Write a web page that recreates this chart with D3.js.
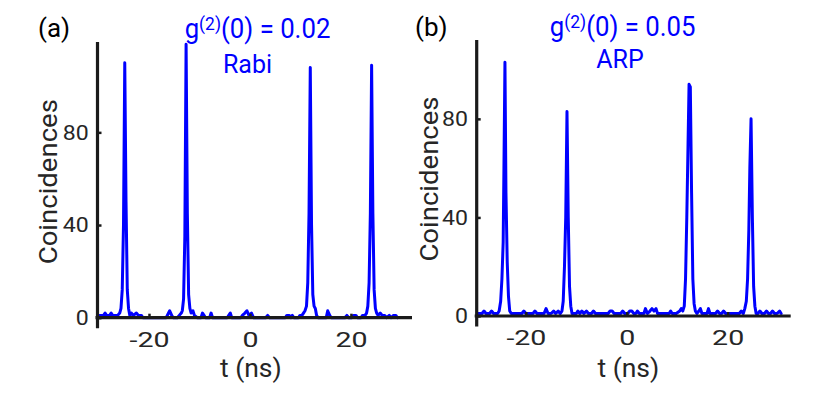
<!DOCTYPE html>
<html>
<head>
<meta charset="utf-8">
<script src="https://cdn.jsdelivr.net/npm/d3@7"></script>
<style>
  body { margin: 0; background: #fff; }
  svg { display: block; font-family: Roboto, "Open Sans", sans-serif; }
</style>
</head>
<body>
<svg id="chart" width="830" height="396"></svg>
<script>
// [t (ns), coincidences]
let rabiData = [
  [-30.2, 1], [-29.0, 1], [-28.7, 2], [-28.4, 1], [-27.8, 1], [-27.5, 2], [-27.2, 1], [-26.2, 1], [-25.8, 2],
  [-25.55, 4], [-25.3, 12], [-25.05, 40], [-24.8, 110], [-24.55, 50], [-24.3, 12], [-24.05, 4], [-23.8, 1],
  [-23.5, 2], [-23.1, 1], [-22.5, 2], [-22.1, 1], [-21.5, 1], [-21.2, 0],
  [-16.6, 0], [-15.9, 3], [-15.5, 1], [-15.2, 0], [-14.4, 0], [-14.0, 1], [-13.6, 2],
  [-13.4, 3], [-13.15, 8], [-12.9, 35], [-12.65, 118], [-12.4, 45], [-12.15, 10], [-11.9, 4], [-11.65, 2],
  [-11.3, 3], [-11.0, 1], [-10.4, 0], [-9.7, 0], [-9.4, 2], [-9.1, 1], [-8.8, 0],
  [-8.0, 0], [-7.7, 2], [-7.4, 0], [-4.5, 0], [-4.2, 1], [-3.9, 2], [-3.6, 0],
  [-1.8, 0], [-1.5, 1], [-1.0, 2], [-0.6, 3], [-0.2, 1], [0.3, 2], [0.7, 0],
  [3.1, 0], [3.5, 1], [3.9, 0], [7.0, 0], [7.3, 1], [7.8, 1], [8.1, 0], [8.4, 1], [8.7, 0],
  [9.6, 0], [9.9, 1], [10.3, 1], [10.6, 2], [10.9, 3],
  [11.2, 5], [11.45, 15], [11.7, 45], [11.95, 108], [12.2, 40], [12.45, 10], [12.7, 5], [12.95, 4], [13.2, 1], [13.5, 0],
  [15.1, 0], [15.4, 3], [15.8, 1], [16.1, 0],
  [18.8, 0], [19.2, 1], [19.6, 0], [20.1, 0], [20.5, 1], [21.0, 1], [21.3, 0],
  [22.0, 0], [22.3, 1], [22.8, 1], [23.1, 2],
  [23.35, 5], [23.6, 15], [23.85, 45], [24.1, 109], [24.35, 45], [24.6, 12], [24.85, 4], [25.1, 2],
  [25.4, 1], [25.8, 2], [26.2, 1], [26.7, 1], [27.1, 0], [27.6, 1], [28.0, 0], [28.4, 1], [28.9, 1], [29.2, 0]
]

let arpData = [
  [-29.5, 1], [-28.7, 1], [-28.3, 2], [-27.9, 1], [-27.2, 1], [-26.8, 2], [-26.4, 1], [-25.6, 1], [-25.3, 2],
  [-25.0, 6], [-24.75, 15], [-24.5, 30], [-24.35, 60], [-24.15, 103], [-23.95, 50], [-23.7, 22], [-23.45, 8], [-23.2, 2], [-22.9, 1],
  [-22.5, 1], [-22.1, 1], [-21.6, 1], [-20.8, 1], [-20.4, 2], [-20.0, 1], [-19.6, 1],
  [-18.6, 1], [-18.2, 2], [-17.8, 1], [-16.9, 1], [-16.4, 1], [-16.0, 3], [-15.6, 1],
  [-15.0, 1], [-14.5, 2], [-14.1, 1], [-13.6, 2], [-13.2, 1],
  [-12.85, 2], [-12.6, 6], [-12.35, 20], [-12.1, 40], [-11.85, 83], [-11.6, 40], [-11.35, 12], [-11.1, 4], [-10.85, 1],
  [-10.4, 1], [-10.0, 1], [-9.7, 2], [-9.3, 1], [-8.9, 2], [-8.5, 1], [-8.0, 2], [-7.6, 1], [-7.0, 1], [-6.6, 2], [-6.2, 1],
  [-5.5, 1], [-4.8, 1], [-3.7, 1], [-3.3, 2], [-2.9, 2], [-2.5, 1], [-1.8, 1],
  [-1.2, 1], [-0.8, 2], [-0.4, 1], [0.2, 1], [0.6, 2], [1.0, 2], [1.4, 1],
  [1.8, 1], [2.1, 2], [2.5, 1], [3.4, 1], [3.7, 3], [4.1, 1], [4.6, 2], [5.0, 3], [5.4, 2], [5.8, 3], [6.1, 1], [7.0, 1],
  [8.4, 1], [8.7, 2], [9.0, 1], [9.8, 1], [10.5, 2], [10.8, 3], [11.1, 2],
  [11.4, 4], [11.65, 15], [11.9, 40], [12.15, 70], [12.35, 94], [12.6, 93], [12.85, 50], [13.1, 15], [13.35, 5], [13.6, 2], [13.9, 1],
  [14.3, 2], [14.6, 3], [14.9, 1], [15.9, 1], [16.2, 3], [16.5, 1],
  [17.6, 1], [18.0, 2], [18.4, 1], [18.8, 1], [19.2, 2], [19.6, 1], [20.2, 1], [21.2, 1], [21.6, 1],
  [22.3, 1], [22.7, 2], [23.1, 1], [23.4, 3],
  [23.7, 6], [23.95, 15], [24.2, 35], [24.4, 60], [24.64, 80], [24.9, 40], [25.15, 12], [25.4, 4], [25.65, 1],
  [26.0, 1], [26.4, 2], [26.8, 1], [27.3, 1], [27.7, 2], [28.1, 1], [28.5, 1], [28.9, 2], [29.3, 1], [29.8, 1], [30.3, 2], [30.6, 1]
]

let xTicks = [-20, 0, 20]
let yTicks = [0, 40, 80]
let panelLabels = ["(a)", "(b)"]
let g2Values = ["0.02", "0.05"]
let schemes = ["Rabi", "ARP"]

let blue = "#0000ff"
let axisColor = "#1a1a1a"
let textColor = "#262626"

// layout of each panel, in pixels
let panels = [
    {
        data: rabiData,
        xDomain: [-30.2, 32.1], xRange: [97.5, 412],
        yDomain: [0, 119], yRange: [317.7, 42],
        labelPos: [38, 37], titlePos: [257.5, 38], schemePos: [247.5, 72.5],
        xTitlePos: [250.8, 376.5], yTitlePos: [57, 181.7]
    },
    {
        data: arpData,
        xDomain: [-29.75, 32.5], xRange: [476.7, 790.7],
        yDomain: [0, 112], yRange: [316, 40],
        labelPos: [415, 36], titlePos: [622.7, 36], schemePos: [620, 67.7],
        xTitlePos: [628.3, 376.5], yTitlePos: [438, 179]
    }
]

let svg = d3.select("#chart")

panels.forEach((p, i) => {

    let x = d3.scaleLinear(p.xDomain, p.xRange)
    let y = d3.scaleLinear(p.yDomain, p.yRange)
    let g = svg.append("g")

    let line = d3.line()
        .x(d => x(d[0]))
        .y(d => y(d[1]))

    g.append("path")
        .datum(p.data)
        .attr("d", line)
        .attr("fill", "none")
        .attr("stroke", blue)
        .attr("stroke-width", 3)
        .attr("stroke-linejoin", "round")
        .attr("stroke-linecap", "round")

    // x axis
    let xAxis = g.append("g")
        .attr("transform", `translate(0,${y(0)})`)
        .call(d3.axisBottom(x).tickValues(xTicks).tickSize(-4).tickPadding(14).tickSizeOuter(0))
    xAxis.select(".domain").remove()
    xAxis.selectAll(".tick line").attr("stroke", axisColor).attr("stroke-width", 2.5)
    xAxis.selectAll(".tick text")
        .attr("font-size", 21)
        .attr("font-family", "Roboto")
        .attr("fill", textColor)
        .attr("transform", "scale(1.36,1)")
        .text(d => String(d))

    // y axis
    let yAxis = g.append("g")
        .attr("transform", `translate(${p.xRange[0]},0)`)
        .call(d3.axisLeft(y).tickValues(yTicks).tickSize(-4).tickPadding(8).tickSizeOuter(0))
    yAxis.select(".domain").remove()
    yAxis.selectAll(".tick line").attr("stroke", axisColor).attr("stroke-width", 2.5)
    yAxis.selectAll(".tick text")
        .attr("font-size", 21)
        .attr("font-family", "Roboto")
        .attr("fill", textColor)
        .attr("transform", "scale(1.1,1)")

    // axis lines
    g.append("line")
        .attr("x1", p.xRange[0] - 2).attr("x2", p.xRange[1])
        .attr("y1", y(0)).attr("y2", y(0))
        .attr("stroke", axisColor).attr("stroke-width", 3.2)
    g.append("line")
        .attr("x1", p.xRange[0]).attr("x2", p.xRange[0])
        .attr("y1", p.yRange[1]).attr("y2", y(0) + 10.5)
        .attr("stroke", axisColor).attr("stroke-width", 3.2)

    // texts
    g.append("text")
        .attr("x", p.labelPos[0]).attr("y", p.labelPos[1])
        .attr("font-size", 26).attr("fill", "#000")
        .text(panelLabels[i])

    let title = g.append("text")
        .attr("transform", `translate(${p.titlePos[0]},${p.titlePos[1]}) scale(0.92,1)`)
        .attr("text-anchor", "middle")
        .attr("font-size", 28).attr("fill", blue)
    title.append("tspan").text("g")
    title.append("tspan").attr("font-size", 19).attr("dy", -8).text("(2)")
    title.append("tspan").attr("dy", 8).text(`(0) = ${g2Values[i]}`)

    g.append("text")
        .attr("x", p.schemePos[0]).attr("y", p.schemePos[1])
        .attr("text-anchor", "middle")
        .attr("font-size", 25).attr("fill", blue)
        .text(schemes[i])

    g.append("text")
        .attr("transform", `translate(${p.xTitlePos[0]},${p.xTitlePos[1]}) scale(1.06,1)`)
        .attr("text-anchor", "middle")
        .attr("font-size", 25).attr("fill", textColor)
        .text("t (ns)")

    g.append("text")
        .attr("transform", `translate(${p.yTitlePos[0]},${p.yTitlePos[1]}) rotate(-90) scale(1.08,1)`)
        .attr("text-anchor", "middle")
        .attr("font-size", 25.5).attr("fill", textColor)
        .text("Coincidences")
})
</script>
</body>
</html>
